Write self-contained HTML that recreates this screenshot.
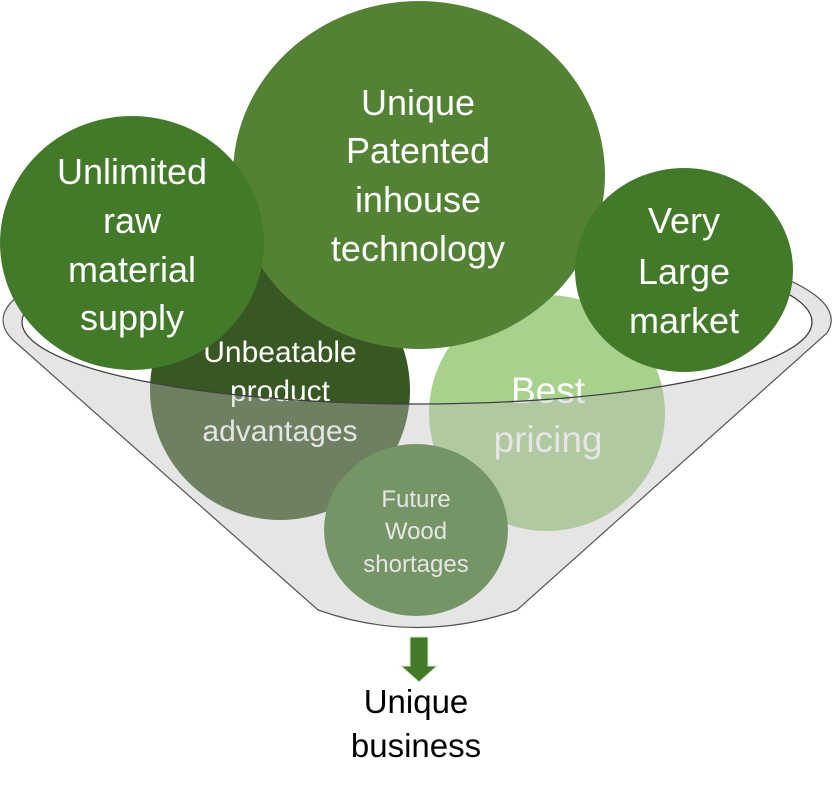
<!DOCTYPE html>
<html><head><meta charset="utf-8"><style>
html,body{margin:0;padding:0;background:#fff;}
svg{display:block;}
text{font-family:"Liberation Sans",sans-serif;text-anchor:middle;}
</style></head><body>
<svg width="832" height="794" viewBox="0 0 832 794" xmlns="http://www.w3.org/2000/svg">
  <!-- lower circles (inside funnel) -->
  <circle cx="280" cy="390" r="130" fill="#385723"/>
  <circle cx="547" cy="413" r="118" fill="#a9d18e"/>
  <ellipse cx="416" cy="530" rx="92" ry="86" fill="#467b2c"/>
  <g fill="#ffffff" font-size="30">
    <text x="280" y="362">Unbeatable</text>
    <text x="280" y="401">product</text>
    <text x="280" y="441">advantages</text>
  </g>
  <g fill="#ffffff" font-size="37">
    <text x="548" y="403">Best</text>
    <text x="548" y="452">pricing</text>
  </g>
  <g fill="#ffffff" font-size="24">
    <text x="416" y="507">Future</text>
    <text x="416" y="539">Wood</text>
    <text x="416" y="572">shortages</text>
  </g>
  <!-- funnel front (semi-transparent) -->
  <path fill-rule="evenodd" fill="rgba(190,190,190,0.4)" d="M13,340 A414,91 0 1 1 827,333 L517,610 Q417,645 318,610 Z M22,322 A395,82 0 1 0 812,322 A395,82 0 1 0 22,322 Z"/>
  <path fill="none" stroke="#555" stroke-width="1.2" d="M13,340 A414,91 0 1 1 827,333 L517,610 Q417,645 318,610 Z"/>
  <ellipse cx="417" cy="322" rx="395" ry="82" fill="none" stroke="#404040" stroke-width="1.3"/>
  <!-- top circles -->
  <ellipse cx="419" cy="175" rx="186" ry="174" fill="#548235"/>
  <ellipse cx="132" cy="243" rx="132" ry="127" fill="#427a2a"/>
  <ellipse cx="684" cy="270" rx="109" ry="102" fill="#427a2a"/>
  <g fill="#ffffff" font-size="36">
    <text x="418" y="115">Unique</text>
    <text x="418" y="163">Patented</text>
    <text x="418" y="212">inhouse</text>
    <text x="418" y="261">technology</text>
    <text x="132" y="184">Unlimited</text>
    <text x="132" y="233">raw</text>
    <text x="132" y="282">material</text>
    <text x="132" y="330">supply</text>
    <text x="684" y="233">Very</text>
    <text x="684" y="284">Large</text>
    <text x="684" y="333">market</text>
  </g>
  <!-- arrow -->
  <polygon points="410,637 428,637 428,666 437,666 419,682 401,666 410,666" fill="#427a2a" stroke="#d5e8c8" stroke-width="1"/>
  <g fill="#000" font-size="33">
    <text x="416" y="713">Unique</text>
    <text x="416" y="757">business</text>
  </g>
</svg>
</body></html>
